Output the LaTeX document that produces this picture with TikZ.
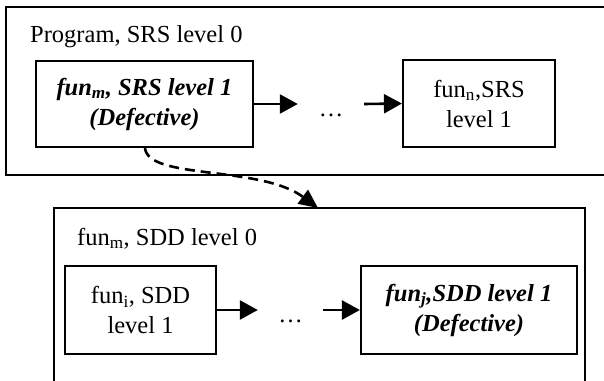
\documentclass[tikz,border=0pt]{standalone}
\usepackage{fontspec}
\setmainfont{Liberation Serif}
\usetikzlibrary{arrows.meta}
\tikzset{
  outerbox/.style={draw=black, line width=1.6pt, rectangle, inner sep=0pt},
  funbox/.style={draw=black, line width=2.2pt, rectangle, inner sep=0pt, align=center,
    font=\fontsize{24.5}{30}\selectfont},
  lbl/.style={inner sep=0pt, anchor=base west, font=\fontsize{24.5}{30}\selectfont},
  dotsnode/.style={inner sep=0pt, minimum width=#1, text height=0pt, text depth=0pt,
    font=\fontsize{24.5}{30}\selectfont},
  arr/.style={line width=2.6pt, -{Triangle[length=18pt,width=19pt]}},
  darr/.style={line width=2.6pt, dash pattern=on 10pt off 6pt, -{Triangle[length=19pt,width=17pt]}}
}
\begin{document}
\begin{tikzpicture}[x=1pt,y=-1pt]
\useasboundingbox (0,0) rectangle (604,380);
\clip (0,0) rectangle (604,380);
\fill[white] (0,0) rectangle (604,380);
% outer boxes
\node[outerbox, minimum width=609pt, minimum height=168pt] (outerA) at (310.5,91) {};
\node[outerbox, minimum width=531pt, minimum height=192pt] (outerB) at (319.5,304) {};
\node[lbl] (lblA) at (30,42) {Program, SRS level 0};
\node[lbl] (lblB) at (77,245) {fun\textsubscript{m}, SDD level 0};
% upper row
\node[funbox, minimum width=217pt, minimum height=86pt] (srsm) at (144.5,104)
  {\bfseries\itshape fun\textsubscript{m}, SRS level 1\\\bfseries\itshape (Defective)};
\node[funbox, minimum width=152pt, minimum height=87pt] (srsn) at (479,103.5)
  {fun\textsubscript{n},SRS\\level 1};
\node[dotsnode=66pt] (d1) at (331,104) {\raisebox{-12pt}{\dots}};
\draw[arr] (srsm.east) -- (d1.west);
\draw[arr] (d1.east) -- (srsn.west);
% lower row
\node[funbox, minimum width=151pt, minimum height=88pt] (sddi) at (140.5,310)
  {fun\textsubscript{i}, SDD\\level 1};
\node[funbox, minimum width=216pt, minimum height=88pt] (sddj) at (469,310)
  {\bfseries\itshape fun\textsubscript{j},SDD level 1\\\bfseries\itshape (Defective)};
\node[dotsnode=65pt] (d2) at (290.5,310) {\raisebox{-12pt}{\dots}};
\draw[arr] (sddi.east) -- (d2.west);
\draw[arr] (d2.east) -- (sddj.west);
% dashed link
\coordinate (src) at (145,148);
\coordinate (tgt) at (318,208);
\draw[darr] (src) .. controls (148,180) and (260,165) .. (tgt);
\end{tikzpicture}
\end{document}
